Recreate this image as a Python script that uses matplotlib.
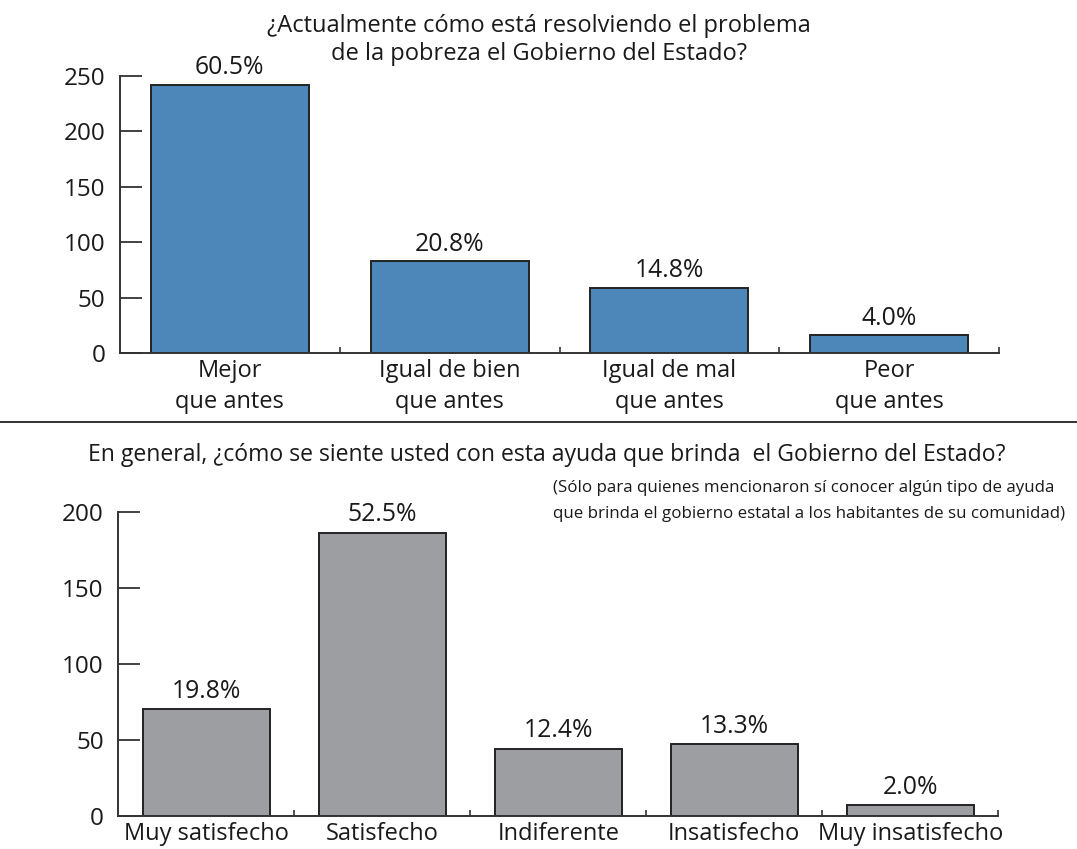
import matplotlib
matplotlib.use("Agg")
import matplotlib.pyplot as plt
from matplotlib.ticker import FixedLocator

plt.rcParams['font.family'] = ['Open Sans', 'DejaVu Sans']

# ---- data ----
top_categories = ["Mejor\nque antes", "Igual de bien\nque antes", "Igual de mal\nque antes", "Peor\nque antes"]
top_values = [242, 83, 59, 16]
top_labels = ["60.5%", "20.8%", "14.8%", "4.0%"]
top_title = "¿Actualmente cómo está resolviendo el problema\nde la pobreza el Gobierno del Estado?"
top_yticks = [0, 50, 100, 150, 200, 250]

bot_categories = ["Muy satisfecho", "Satisfecho", "Indiferente", "Insatisfecho", "Muy insatisfecho"]
bot_values = [70, 186, 44, 47, 7]
bot_labels = ["19.8%", "52.5%", "12.4%", "13.3%", "2.0%"]
bot_title = "En general, ¿cómo se siente usted con esta ayuda que brinda  el Gobierno del Estado?"
bot_note = ("(Sólo para quienes mencionaron sí conocer algún tipo de ayuda\n"
            "que brinda el gobierno estatal a los habitantes de su comunidad)")
bot_yticks = [0, 50, 100, 150, 200]

W, H = 1077, 849
fig = plt.figure(figsize=(W / 100, H / 100), dpi=100)

FS = 17
TXT = "#1a1a1a"
EDGE = "#222222"


def style_axes(ax, n, ymax, yticks):
    ax.set_xlim(-0.5, n - 0.5)
    ax.set_ylim(0, ymax)
    for s in ("top", "right"):
        ax.spines[s].set_visible(False)
    for s in ("left", "bottom"):
        ax.spines[s].set_color("#333333")
        ax.spines[s].set_linewidth(1.4)
    ax.set_yticks(yticks)
    ax.tick_params(axis="y", direction="in", length=15.5, width=1.3, color="#333333",
                   labelsize=FS + 0.5, pad=10.5, labelcolor=TXT)
    ax.set_xticks(range(n))
    ax.tick_params(axis="x", which="major", length=0, labelsize=FS, pad=4.5,
                   labelcolor=TXT)
    ax.xaxis.set_minor_locator(FixedLocator([i + 0.5 for i in range(n)]))
    ax.tick_params(axis="x", which="minor", direction="in", length=4.5, width=1.2,
                   color="#333333")
    ax.set_facecolor("none")


# ---- top chart ----
ax1 = fig.add_axes([120 / W, 1 - 353 / H, 879 / W, (353 - 75.7) / H])
bars = ax1.bar(range(len(top_values)), top_values, width=0.718, color="#4D87B9",
               edgecolor=EDGE, linewidth=1.4)
style_axes(ax1, len(top_values), 250, top_yticks)
ax1.set_xticklabels(top_categories, linespacing=1.38)
for b, lab in zip(bars, top_labels):
    ax1.annotate(lab, (b.get_x() + b.get_width() / 2, b.get_height()),
                 xytext=(0, 3), textcoords="offset points", ha="center", va="bottom",
                 fontsize=FS + 0.8, color=TXT)
fig.text(539 / W, 1 - 40 / H, top_title, ha="center", va="center", fontsize=FS,
         linespacing=1.27, color=TXT)

# separator line
fig.add_artist(plt.Line2D([0, 1], [1 - 422 / H, 1 - 422 / H], color="#222222",
                          linewidth=1.3, transform=fig.transFigure))

# ---- bottom chart ----
ax2 = fig.add_axes([118.3 / W, 1 - 816 / H, 880 / W, (816 - 511.7) / H])
bars2 = ax2.bar(range(len(bot_values)), bot_values, width=0.72, color="#9D9EA2",
                edgecolor=EDGE, linewidth=1.4)
style_axes(ax2, len(bot_values), 200, bot_yticks)
ax2.set_xticklabels(bot_categories)
for b, lab in zip(bars2, bot_labels):
    ax2.annotate(lab, (b.get_x() + b.get_width() / 2, b.get_height()),
                 xytext=(0, 4), textcoords="offset points", ha="center", va="bottom",
                 fontsize=FS + 0.8, color=TXT)
fig.text(547 / W, 1 - 455 / H, bot_title, ha="center", va="center", fontsize=16.6,
         color=TXT)
fig.text(553 / W, 1 - 501 / H, bot_note, ha="left", va="center", fontsize=12.2,
         linespacing=1.75, color=TXT)

fig.savefig("out.png", dpi=100, facecolor="white")
